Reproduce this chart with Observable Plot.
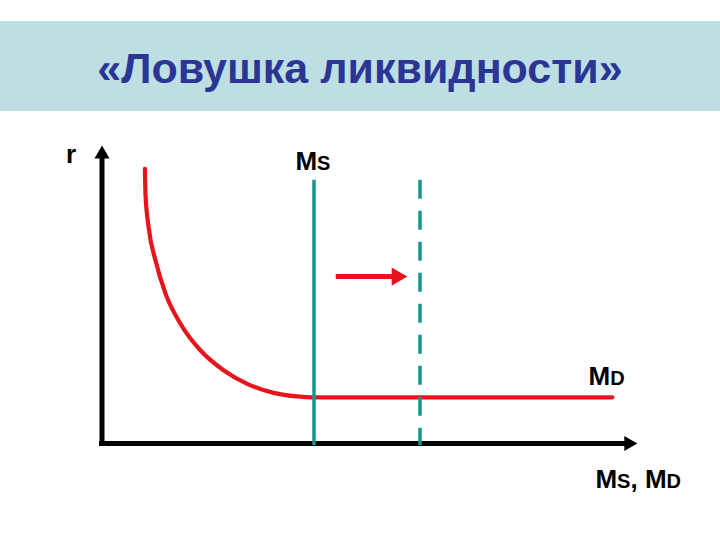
<!DOCTYPE html>
<html>
<head>
<meta charset="utf-8">
<script src="https://cdn.jsdelivr.net/npm/d3@7"></script>
<script src="https://cdn.jsdelivr.net/npm/@observablehq/plot@0.6"></script>
<style>
  html, body { margin: 0; padding: 0; background: #fff; }
  #page { width: 720px; height: 540px; position: relative; overflow: hidden; font-family: "Liberation Sans", Arial, sans-serif; }
  #spacer { height: 21px; }
  #band { height: 90px; background: #bddfe4; position: relative; }
  #title { position: absolute; left: 0; width: 720px; top: 25.6px; text-align: center; line-height: 43px; }
  #title span { display: inline-block; font-size: 43px; font-weight: bold; color: #2b3594; white-space: nowrap; }
  #chart svg { display: block; overflow: visible; }
</style>
</head>
<body>
<div id="page">
  <div id="spacer"></div>
  <div id="band"><div id="title"><span id="titleText"></span></div></div>
  <div id="chart"></div>
</div>
<script>
// ---- data ----
const titleText = "«Ловушка ликвидности»";
// money demand curve MD (liquidity trap shape)
const mdX = [0.81, 0.82, 0.88, 1.01, 1.20, 1.48, 1.86, 2.30, 2.74, 3.24, 3.68, 3.97, 9.63];
const mdY = [9.22, 8.38, 7.26, 6.14, 5.02, 4.02, 3.12, 2.45, 2.00, 1.70, 1.58, 1.55, 1.55];
// money supply: initial and shifted
const msX = [4];
const msShiftX = [6];
const msTop = 8.83;
const msBottom = -0.07;
// shift arrow
const shiftArrowY = [5.6];
const shiftArrowFrom = 4.42;
const shiftArrowShaftEnd = 5.55;
const shiftArrowTip = 5.76;
// axes
const xAxisTip = 10.1;
const yAxisTip = 10;
// labels
const labelText = ["r", "MS", "MD", "MS, MD"];
const labelX = [-0.68, 3.65, 9.18, 9.31];
const labelY = [9.40, 9.19, 1.95, -1.48];

document.getElementById("titleText").textContent = titleText;

const mdData = mdX.map((x, i) => ({x, y: mdY[i]}));
const labels = labelText.map((t, i) => ({t, x: labelX[i], y: labelY[i]}));

const red = "#e8141c";
const teal = "#15968f";

const plot = Plot.plot({
  width: 720,
  height: 429,
  marginLeft: 101.5,
  marginRight: 88.5,
  marginTop: 34,
  marginBottom: 97,
  x: {domain: [0, 10], axis: null},
  y: {domain: [0, 10], axis: null},
  style: {background: "transparent", overflow: "visible"},
  marks: [
    // axes shafts
    Plot.ruleX([0], {y1: 0, y2: yAxisTip - 0.35, stroke: "#000", strokeWidth: 5, strokeLinecap: "square"}),
    Plot.ruleY([0], {x1: 0, x2: xAxisTip - 0.2, stroke: "#000", strokeWidth: 5, strokeLinecap: "square"}),
    // axes heads
    Plot.dot([{x: 0, y: yAxisTip}], {x: "x", y: "y", symbol: "triangle", r: 5.6, fill: "#000", stroke: "none", dy: 8.66}),
    Plot.dot([{x: xAxisTip, y: 0}], {x: "x", y: "y", symbol: "triangle", r: 5.6, fill: "#000", stroke: "none", rotate: 90, dx: -8.66}),
    // MD curve
    Plot.line(mdData, {x: "x", y: "y", stroke: red, strokeWidth: 4.2, curve: "monotone-x"}),
    // MS lines
    Plot.ruleX(msX, {y1: msTop, y2: msBottom, stroke: teal, strokeWidth: 3.5}),
    Plot.ruleX(msShiftX, {y1: msTop, y2: msBottom, stroke: teal, strokeWidth: 3.5, strokeDasharray: "19,12"}),
    // shift arrow
    Plot.ruleY(shiftArrowY, {x1: shiftArrowFrom, x2: shiftArrowShaftEnd, stroke: red, strokeWidth: 5}),
    Plot.dot(shiftArrowY, {x: () => shiftArrowTip, y: d => d, symbol: "triangle", r: 6.7, fill: red, stroke: "none", rotate: 90, dx: -10.4}),
    // labels
    Plot.text(labels, {x: "x", y: "y", text: "t", textAnchor: "start", lineAnchor: "bottom",
      fontSize: 26, fontWeight: "bold", fill: "#000", fontFamily: "Liberation Sans, Arial, sans-serif"})
  ]
});

// render the S / D after M as reduced-size capitals
plot.querySelectorAll("text").forEach(t => {
  const s = t.textContent;
  if (/M[SD]/.test(s)) {
    t.innerHTML = s.replace(/M([SD])/g, 'M<tspan font-size="20">$1</tspan>');
  }
});

document.getElementById("chart").appendChild(plot);
</script>
</body>
</html>
